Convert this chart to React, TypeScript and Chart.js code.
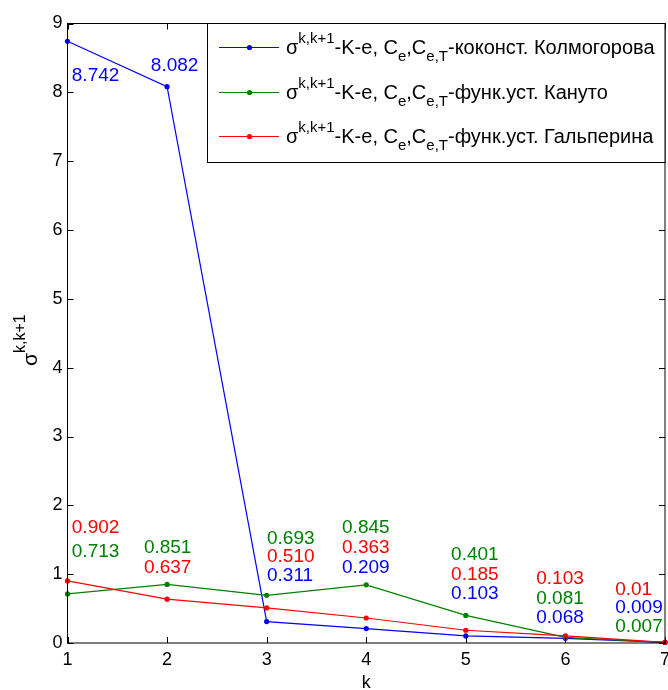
import React, { useEffect, useRef } from "react";
import { Chart, registerables } from "chart.js";

Chart.register(...registerables);

// ---- data ----
const kValues = [1, 2, 3, 4, 5, 6, 7];
const kolmogorov = [8.742, 8.082, 0.311, 0.209, 0.103, 0.068, 0.009];
const kanuto = [0.713, 0.851, 0.693, 0.845, 0.401, 0.081, 0.007];
const galperin = [0.902, 0.637, 0.51, 0.363, 0.185, 0.103, 0.01];

const kolmogorovText = ["8.742", "8.082", "0.311", "0.209", "0.103", "0.068", "0.009"];
const kanutoText = ["0.713", "0.851", "0.693", "0.845", "0.401", "0.081", "0.007"];
const galperinText = ["0.902", "0.637", "0.510", "0.363", "0.185", "0.103", "0.01"];

// annotation anchors (data units: k, sigma) — left edge / vertical middle of text
const kolmogorovLabelAt = [[1.043, 8.24], [1.837, 8.39], [3.003, 0.97], [3.757, 1.09], [4.852, 0.71], [5.707, 0.36], [6.5, 0.51]];
const kanutoLabelAt = [[1.043, 1.32], [1.767, 1.39], [3.003, 1.52], [3.757, 1.67], [4.852, 1.28], [5.707, 0.64], [6.5, 0.23]];
const galperinLabelAt = [[1.043, 1.67], [1.767, 1.09], [3.003, 1.25], [3.757, 1.38], [4.852, 0.99], [5.707, 0.93], [6.5, 0.78]];

const xTicks = [1, 2, 3, 4, 5, 6, 7];
const yTicks = [0, 1, 2, 3, 4, 5, 6, 7, 8, 9];

const seriesNames = ["-коконст. Колмогорова", "-функ.уст. Кануто", "-функ.уст. Гальперина"];
const seriesColors = ["#0000ff", "#008000", "#ff0000"];

const FONT = '"Liberation Sans", Arial, Helvetica, sans-serif';

type Run = [string, number];

function drawRich(ctx: CanvasRenderingContext2D, runs: Run[], x: number, y: number, main: number, small: number, supOff: number, subOff: number) {
  let cx = x;
  for (const [t, kind] of runs) {
    const size = kind === 0 ? main : small;
    ctx.font = `${size}px ${FONT}`;
    const dy = kind === 1 ? -supOff : kind === 2 ? subOff : 0;
    ctx.fillText(t, cx, y + dy);
    cx += ctx.measureText(t).width;
  }
  return cx;
}

const decorPlugin = {
  id: "matlabDecor",
  afterDraw(chart: any) {
    const ctx: CanvasRenderingContext2D = chart.ctx;
    const { left, right, top, bottom } = chart.chartArea;
    const xs = chart.scales.x;
    const ys = chart.scales.y;
    ctx.save();

    // axes box
    ctx.strokeStyle = "#000";
    ctx.lineWidth = 1;
    ctx.strokeRect(left, top, right - left, bottom - top);

    // inward ticks
    const tl = 6;
    ctx.beginPath();
    for (const t of xTicks) {
      const px = Math.round(xs.getPixelForValue(t)) + 0.5;
      ctx.moveTo(px, bottom);
      ctx.lineTo(px, bottom - tl);
      ctx.moveTo(px, top);
      ctx.lineTo(px, top + tl);
    }
    for (const t of yTicks) {
      const py = Math.round(ys.getPixelForValue(t)) + 0.5;
      ctx.moveTo(left, py);
      ctx.lineTo(left + tl, py);
      ctx.moveTo(right, py);
      ctx.lineTo(right - tl, py);
    }
    ctx.stroke();

    // tick labels
    ctx.fillStyle = "#000";
    ctx.font = `18px ${FONT}`;
    ctx.textAlign = "center";
    ctx.textBaseline = "middle";
    for (const t of xTicks) {
      ctx.fillText(String(t), xs.getPixelForValue(t), bottom + 17);
    }
    ctx.textAlign = "right";
    for (const t of yTicks) {
      ctx.fillText(String(t), left - 5, ys.getPixelForValue(t));
    }

    // x title
    ctx.textAlign = "center";
    ctx.fillText("k", (left + right) / 2, bottom + 40);

    // y title (rotated)
    ctx.save();
    ctx.translate(37, 366);
    ctx.rotate(-Math.PI / 2);
    ctx.textAlign = "left";
    ctx.textBaseline = "alphabetic";
    drawRich(ctx, [["σ", 0], ["k,k+1", 1]], 0, 0, 21, 16, 12, 0);
    ctx.restore();

    // data labels
    ctx.font = `19px ${FONT}`;
    ctx.textAlign = "left";
    ctx.textBaseline = "middle";
    const groups: [string[], number[][], string][] = [
      [kolmogorovText, kolmogorovLabelAt, seriesColors[0]],
      [kanutoText, kanutoLabelAt, seriesColors[1]],
      [galperinText, galperinLabelAt, seriesColors[2]],
    ];
    for (const [texts, at, color] of groups) {
      ctx.fillStyle = color;
      texts.forEach((t, i) => {
        ctx.fillText(t, xs.getPixelForValue(at[i][0]), ys.getPixelForValue(at[i][1]));
      });
    }

    // legend
    const lx = 207.5;
    const ly = top;
    const lw = right - lx;
    const lh = 139;
    ctx.fillStyle = "#fff";
    ctx.fillRect(lx, ly, lw, lh);
    ctx.strokeStyle = "#000";
    ctx.lineWidth = 1;
    ctx.strokeRect(lx, ly, lw, lh);
    const rowY = [47, 92, 136];
    ctx.textAlign = "left";
    ctx.textBaseline = "alphabetic";
    rowY.forEach((cy, i) => {
      ctx.strokeStyle = seriesColors[i];
      ctx.lineWidth = 1;
      ctx.beginPath();
      ctx.moveTo(219, cy + 0.5);
      ctx.lineTo(279, cy + 0.5);
      ctx.stroke();
      ctx.fillStyle = seriesColors[i];
      ctx.beginPath();
      ctx.arc(249.5, cy + 0.5, 2.6, 0, Math.PI * 2);
      ctx.fill();
      ctx.fillStyle = "#000";
      drawRich(
        ctx,
        [["σ", 0], ["k,k+1", 1], ["-K-e, C", 0], ["e", 2], [",C", 0], ["e,T", 2], [seriesNames[i], 0]],
        286,
        cy + 7,
        20,
        15,
        11,
        7
      );
    });

    ctx.restore();
  },
};

export default function App() {
  const ref = useRef<HTMLCanvasElement | null>(null);

  useEffect(() => {
    if (!ref.current) return;
    const mk = (vals: number[], i: number, order: number) => ({
      label: seriesNames[i],
      data: kValues.map((k, j) => ({ x: k, y: vals[j] })),
      borderColor: seriesColors[i],
      backgroundColor: seriesColors[i],
      borderWidth: 1.2,
      pointRadius: 2.6,
      pointBorderWidth: 0,
      pointBackgroundColor: seriesColors[i],
      pointHoverRadius: 2.6,
      tension: 0,
      order,
      clip: false as any,
    });
    const chart = new Chart(ref.current, {
      type: "line",
      data: {
        datasets: [mk(kolmogorov, 0, 2), mk(kanuto, 1, 1), mk(galperin, 2, 0)],
      },
      options: {
        animation: false,
        responsive: false,
        devicePixelRatio: 1,
        layout: { padding: { left: 67.5, top: 23.5, right: 3, bottom: 47 } },
        plugins: { legend: { display: false }, tooltip: { enabled: false } },
        events: [],
        scales: {
          x: { type: "linear", min: 1, max: 7, display: false },
          y: { type: "linear", min: 0, max: 9, display: false },
        },
      },
      plugins: [decorPlugin],
    });
    return () => chart.destroy();
  }, []);

  return (
    <div style={{ position: "absolute", left: 0, top: 0, width: 668, height: 690, background: "#fff" }}>
      <canvas ref={ref} width={668} height={690} style={{ width: 668, height: 690, display: "block" }} />
    </div>
  );
}
